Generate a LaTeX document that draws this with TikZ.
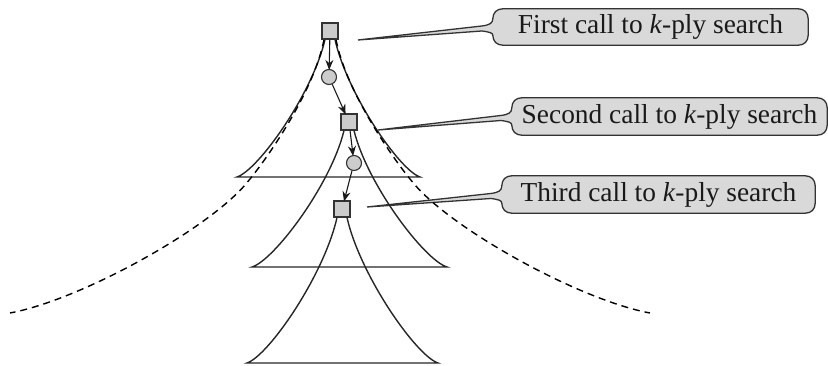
\documentclass[tikz,border=0pt]{standalone}
\usepackage{fontspec}
\setmainfont{Liberation Serif}
\usetikzlibrary{calc,arrows.meta,backgrounds}
\tikzset{
  sqnode/.style={draw=black!80, fill=black!20, line width=1.1pt, minimum size=16pt, inner sep=0pt},
  cinode/.style={circle, draw=black!80, fill=black!20, line width=1.1pt, minimum size=15pt, inner sep=0pt},
  treeline/.style={draw=black!85, line width=1.4pt},
  dashcurve/.style={draw=black, line width=1.4pt, dash pattern=on 7pt off 5pt},
  arr/.style={draw=black!90, line width=1.1pt, shorten >=-1pt, -{Stealth[length=10pt,width=8pt]}},
  calltext/.style={inner sep=0pt, text=black!90, font=\fontsize{27.4pt}{30pt}\selectfont},
  callshape/.style={draw=black!80, fill=black!15, line width=1.3pt}
}
\newcommand\calloutpath[2]{%
  \path[callshape] (#2) -- ($(#1.west)+(-11,-1)$)
   .. controls ($(#1.west)+(-3,-2)$) and ($(#1.west)+(0,-4)$) .. ($(#1.north west)+(0,10)$)
   .. controls ($(#1.north west)+(0,4)$) and ($(#1.north west)+(4,0)$) .. ($(#1.north west)+(10,0)$)
   -- ($(#1.north east)+(-10,0)$)
   .. controls ($(#1.north east)+(-4,0)$) and ($(#1.north east)+(0,4)$) .. ($(#1.north east)+(0,10)$)
   -- ($(#1.south east)+(0,-10)$)
   .. controls ($(#1.south east)+(0,-4)$) and ($(#1.south east)+(-4,0)$) .. ($(#1.south east)+(-10,0)$)
   -- ($(#1.south west)+(10,0)$)
   .. controls ($(#1.south west)+(4,0)$) and ($(#1.south west)+(0,-4)$) .. ($(#1.south west)+(0,-10)$)
   .. controls ($(#1.west)+(0,6)$) and ($(#1.west)+(-3,5)$) .. ($(#1.west)+(-11,4)$)
   -- cycle;}
\begin{document}
\begin{tikzpicture}[x=1pt,y=-1pt]
\useasboundingbox (0,0) rectangle (828,366);

% search nodes
\node[sqnode] (s1) at (330,31) {};
\node[cinode] (o1) at (329,77) {};
\node[sqnode] (s2) at (349,122) {};
\node[cinode] (o2) at (354,163) {};
\node[sqnode] (s3) at (342,209) {};

% tree bases and dashed ends
\coordinate (t1l) at (237,177);
\coordinate (t1r) at (420,177);
\coordinate (t2l) at (252,267);
\coordinate (t2r) at (447,267);
\coordinate (t3l) at (247,363);
\coordinate (t3r) at (438,363);
\coordinate (dl) at (10,313);
\coordinate (dr) at (650,313);

% callout tips
\coordinate (p1) at (358,40);
\coordinate (p2) at (378,130);
\coordinate (p3) at (367,207);

% callout texts
\node[calltext, minimum width=315pt, minimum height=36pt] (c1) at (650.5,27) {First call to \textit{k}-ply search};
\node[calltext, minimum width=315pt, minimum height=37pt] (c2) at (669.5,116.5) {Second call to \textit{k}-ply search};
\node[calltext, minimum width=313pt, minimum height=37pt] (c3) at (658.5,194.5) {Third call to \textit{k}-ply search};

\begin{scope}[on background layer]
\calloutpath{c1}{p1}
\calloutpath{c2}{p2}
\calloutpath{c3}{p3}

% trees
\draw[treeline] ($(s1.south)+(-5,0)$) .. controls (312.3,94.2) and (258.1,170.1) .. (t1l)
   -- (t1r) .. controls (399.6,170.1) and (347.2,94.2) .. ($(s1.south)+(5,0)$);
\draw[treeline] ($(s2.south)+(-5,0)$) .. controls (330.8,184.8) and (274.1,260.2) .. (t2l)
   -- (t2r) .. controls (424.7,260.2) and (367.4,184.8) .. ($(s2.south)+(5,0)$);
\draw[treeline] ($(s3.south)+(-5,0)$) .. controls (324,275.4) and (268.6,355.7) .. (t3l)
   -- (t3r) .. controls (416.2,355.7) and (360.1,275.4) .. ($(s3.south)+(5,0)$);

% dashed outer curves
\draw[dashcurve] ($(s1.south)+(-6,0)$) .. controls (314,92) and (265,162) .. (245,185)
   .. controls (205,231) and (80,300) .. (dl);
\draw[dashcurve] ($(s1.south)+(6,0)$) .. controls (346,92) and (395,162) .. (415,185)
   .. controls (455,231) and (580,300) .. (dr);
\end{scope}

% search path arrows
\draw[arr] (s1) -- (o1);
\draw[arr] (o1) -- (s2);
\draw[arr] (s2) -- (o2);
\draw[arr] (o2) -- (s3);
\end{tikzpicture}
\end{document}
